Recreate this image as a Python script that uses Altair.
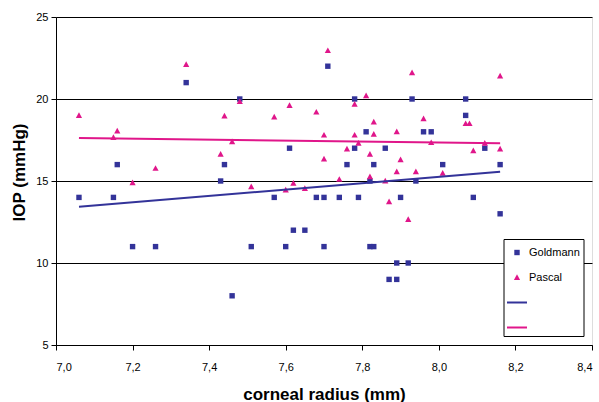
import altair as alt
import pandas as pd

# Goldmann readings (corneal radius mm, IOP mmHg)
g_x = [7.06, 7.15, 7.16, 7.20, 7.26, 7.34, 7.43, 7.44, 7.46, 7.48, 7.51, 7.57, 7.60, 7.61,
       7.62, 7.65, 7.68, 7.70, 7.70, 7.71, 7.74, 7.76, 7.78, 7.78, 7.79, 7.81, 7.82, 7.82,
       7.83, 7.83, 7.86, 7.87, 7.89, 7.89, 7.90, 7.92, 7.93, 7.94, 7.96, 7.98, 8.01, 8.07,
       8.07, 8.09, 8.12, 8.16, 8.16]
g_y = [14, 14, 16, 11, 11, 21, 15, 16, 8, 20, 11, 14, 11, 17,
       12, 12, 14, 14, 11, 22, 14, 16, 20, 17, 14, 18, 15, 11,
       11, 16, 17, 9, 10, 9, 14, 10, 20, 15, 18, 18, 16, 19,
       20, 14, 17, 16, 13]

# Pascal readings
p_x = [7.06, 7.15, 7.16, 7.20, 7.26, 7.34, 7.43, 7.44, 7.46, 7.48, 7.51, 7.57, 7.60, 7.61,
       7.62, 7.65, 7.68, 7.70, 7.70, 7.71, 7.74, 7.76, 7.78, 7.78, 7.79, 7.81, 7.82, 7.82,
       7.83, 7.83, 7.86, 7.87, 7.89, 7.89, 7.90, 7.92, 7.93, 7.94, 7.96, 7.98, 8.01, 8.07,
       8.08, 8.09, 8.12, 8.16, 8.16]
p_y = [19.0, 17.66, 18.05, 14.9, 15.77, 22.1, 16.63, 18.96, 17.4, 19.84, 14.65, 18.9, 14.45, 19.6,
       14.86, 14.55, 19.2, 17.8, 16.34, 22.95, 15.1, 16.95, 19.68, 17.8, 17.3, 20.2, 16.63, 15.26,
       18.6, 17.85, 15.0, 13.74, 18.0, 15.57, 16.3, 12.66, 21.6, 15.57, 18.8, 17.34, 15.47, 18.5,
       18.5, 16.85, 17.3, 21.4, 16.95]

# Linear trend lines (end points)
trend_x = [7.06, 8.16]
g_trend_y = [13.43, 15.57]
p_trend_y = [17.62, 17.30]

x_ticks = [7.0, 7.2, 7.4, 7.6, 7.8, 8.0, 8.2, 8.4]
y_ticks = [5, 10, 15, 20, 25]

series = ["Goldmann", "Pascal", "Goldmann trend", "Pascal trend"]
colors = ["#333399", "#E0168A", "#333399", "#E0168A"]
# marker glyphs (unit-square SVG paths, scaled by the symbol size)
shapes = [
    "M-0.27,-0.27H0.27V0.27H-0.27Z",
    "M0,-0.32L0.31,0.25H-0.31Z",
    "M-1,-0.1H1V0.1H-1Z",
    "M-1,-0.1H1V0.1H-1Z",
]

FONT = "Liberation Sans"

pts = pd.DataFrame({
    "x": g_x + p_x,
    "y": g_y + p_y,
    "series": ["Goldmann"] * len(g_x) + ["Pascal"] * len(p_x),
})
lines = pd.DataFrame({
    "x": trend_x + trend_x,
    "y": g_trend_y + p_trend_y,
    "series": ["Goldmann trend"] * 2 + ["Pascal trend"] * 2,
})

legend = alt.Legend(
    title=None, orient="none", legendX=447.5, legendY=222, direction="vertical",
    fillColor="white", strokeColor="black", padding=3.5, rowPadding=10, labelOffset=2,
    labelFont=FONT, labelFontSize=11, labelColor="black", symbolStrokeWidth=0,
    symbolSize=400, symbolOpacity=1,
    labelExpr="indexof(datum.label, 'trend') >= 0 ? '' : datum.label",
)

xscale = alt.Scale(domain=[7.0, 8.4], nice=False, zero=False)
yscale = alt.Scale(domain=[5, 25], nice=False, zero=False)

x_axis = alt.Axis(
    values=x_ticks, labelExpr="replace(format(datum.value, '.1f'), '.', ',')",
    grid=False, domainColor="black", tickColor="black", tickSize=5,
    labelFont=FONT, labelFontSize=11, labelColor="black", labelPadding=11,
    title="corneal radius (mm)", titleFont=FONT, titleFontSize=17, titleFontWeight="bold",
    titleColor="black", titleY=54, titleBaseline="alphabetic",
)
y_axis = alt.Axis(
    values=y_ticks, grid=True, gridColor="black", gridWidth=1,
    domainColor="black", tickColor="black", tickSize=5,
    labelFont=FONT, labelFontSize=11, labelColor="black", labelPadding=3,
    title="IOP (mmHg)", titleFont=FONT, titleFontSize=17, titleFontWeight="bold",
    titleColor="black", titleX=-32, titleY=155, titleBaseline="alphabetic",
)

color = alt.Color("series:N", scale=alt.Scale(domain=series, range=colors), legend=legend)

points = alt.Chart(pts).mark_point(filled=True, opacity=1, size=400).encode(
    x=alt.X("x:Q", scale=xscale, axis=x_axis),
    y=alt.Y("y:Q", scale=yscale, axis=y_axis),
    color=color,
    shape=alt.Shape("series:N", scale=alt.Scale(domain=series, range=shapes), legend=legend),
)

trend = alt.Chart(lines).mark_line(strokeWidth=2).encode(
    x=alt.X("x:Q", scale=xscale),
    y=alt.Y("y:Q", scale=yscale),
    color=color,
    detail="series:N",
)

chart = alt.layer(points, trend).properties(
    width=536, height=328,
    autosize=alt.AutoSizeParams(type="none"),
    padding={"left": 56, "top": 17, "right": 7, "bottom": 57},
).configure_view(stroke="#808080", strokeWidth=1).configure(background="white")

chart.save("out.html", embed_options={"renderer": "svg", "actions": False})
